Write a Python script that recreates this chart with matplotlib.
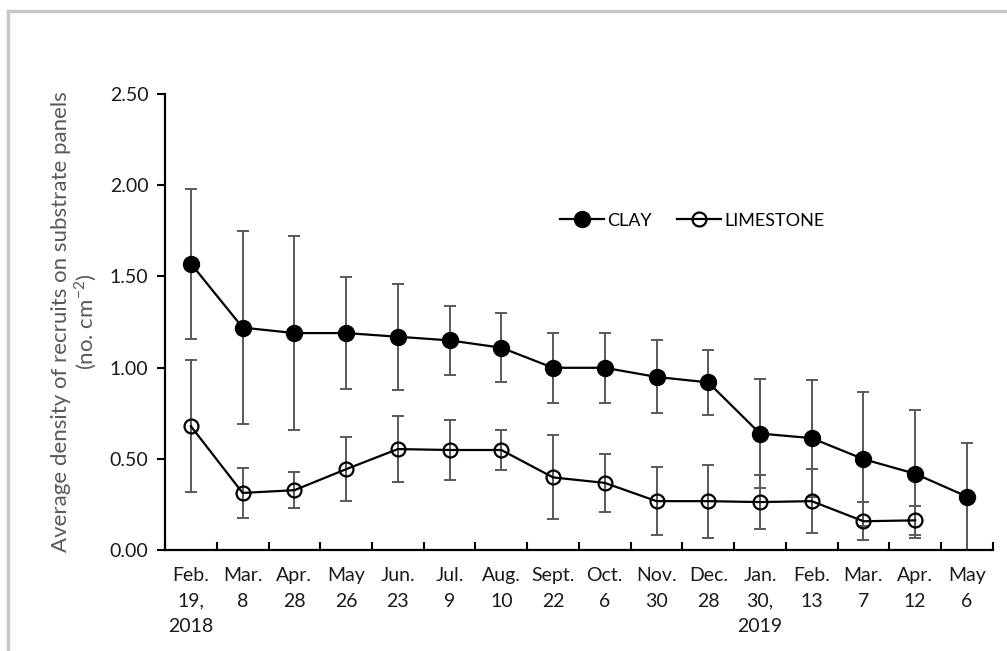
import matplotlib.pyplot as plt
from matplotlib.lines import Line2D

DATES = ["Feb.\n19,\n2018", "Mar.\n8", "Apr.\n28", "May\n26", "Jun.\n23", "Jul.\n9",
         "Aug.\n10", "Sept.\n22", "Oct.\n6", "Nov.\n30", "Dec.\n28", "Jan.\n30,\n2019",
         "Feb.\n13", "Mar.\n7", "Apr.\n12", "May\n6"]

CLAY = [1.57, 1.22, 1.19, 1.19, 1.17, 1.15, 1.11, 1.00, 1.00, 0.95, 0.92, 0.64,
        0.615, 0.50, 0.42, 0.295]
CLAY_ERR = [0.41, 0.53, 0.53, 0.305, 0.29, 0.19, 0.19, 0.19, 0.19, 0.20, 0.18, 0.30,
            0.32, 0.365, 0.35, 0.295]

LIME = [0.68, 0.315, 0.33, 0.445, 0.555, 0.55, 0.55, 0.40, 0.37, 0.27, 0.27, 0.265,
        0.27, 0.16, 0.165]
LIME_ERR = [0.36, 0.135, 0.10, 0.175, 0.18, 0.165, 0.11, 0.23, 0.16, 0.185, 0.20,
            0.15, 0.175, 0.105, 0.08]

FONT = "Lato"
INK = "#1a1a1a"
ERR_COLOR = "#595959"

plt.rcParams["font.family"] = FONT
plt.rcParams["mathtext.fontset"] = "custom"
plt.rcParams["mathtext.rm"] = FONT

fig = plt.figure(figsize=(10.07, 6.51), dpi=100)
ax = fig.add_axes([0.1639, 0.1544, 0.822, 0.7016])

x_clay = list(range(len(CLAY)))
x_lime = list(range(len(LIME)))

ax.errorbar(x_clay, CLAY, yerr=CLAY_ERR, fmt="none", ecolor=ERR_COLOR,
            elinewidth=1.4, capsize=4, capthick=1.4, zorder=2)
ax.errorbar(x_lime, LIME, yerr=LIME_ERR, fmt="none", ecolor=ERR_COLOR,
            elinewidth=1.4, capsize=4, capthick=1.4, zorder=2)
ax.plot(x_clay, CLAY, color="black", lw=1.6, marker="o", ms=11.5,
        mfc="black", mec="black", zorder=3)
ax.plot(x_lime, LIME, color="black", lw=1.6, marker="o", ms=10,
        mfc="none", mec="black", mew=1.6, zorder=3)

ax.set_xlim(-0.5, len(DATES) - 0.5)
ax.set_ylim(0, 2.5)
yt = [0, 0.5, 1.0, 1.5, 2.0, 2.5]
ax.set_yticks(yt)
ax.set_yticklabels([f"{v:.2f}" for v in yt], fontsize=14, color=INK)
ax.set_xticks(x_clay)
ax.set_xticklabels(DATES, fontsize=14, color=INK, linespacing=1.6, va="top")
ax.set_xticks([i - 0.5 for i in range(len(DATES) + 1)], minor=True)
ax.tick_params(axis="x", which="major", length=0, pad=12)
ax.tick_params(axis="x", which="minor", direction="in", length=6, width=1.5)
ax.tick_params(axis="y", direction="out", length=6, width=1.5, pad=6)

for side in ("top", "right"):
    ax.spines[side].set_visible(False)
for side in ("left", "bottom"):
    ax.spines[side].set_linewidth(1.6)

ax.set_ylabel("Average density of recruits on substrate panels\n(no. cm$^{-2}$)",
              fontsize=16, color="#595959", labelpad=8, linespacing=1.05)

handles = [
    Line2D([], [], color="black", lw=1.6, marker="o", ms=11.5, mfc="black"),
    Line2D([], [], color="black", lw=1.6, marker="o", ms=10, mfc="none", mew=1.6),
]
ax.legend(handles, ["CLAY", "LIMESTONE"], loc="center left",
          bbox_to_anchor=(0.458, 0.722), ncol=2, frameon=False, fontsize=13,
          handlelength=2.4, handletextpad=0.2, columnspacing=1.4)

# grey frame from the source image
fig.add_artist(Line2D([8 / 1007, 1], [1 - 11 / 651] * 2, color="#c8c8c8", lw=2.5,
                      transform=fig.transFigure))
fig.add_artist(Line2D([8 / 1007] * 2, [0, 1 - 11 / 651], color="#c8c8c8", lw=2.5,
                      transform=fig.transFigure))

fig.savefig("out.png", dpi=100)
